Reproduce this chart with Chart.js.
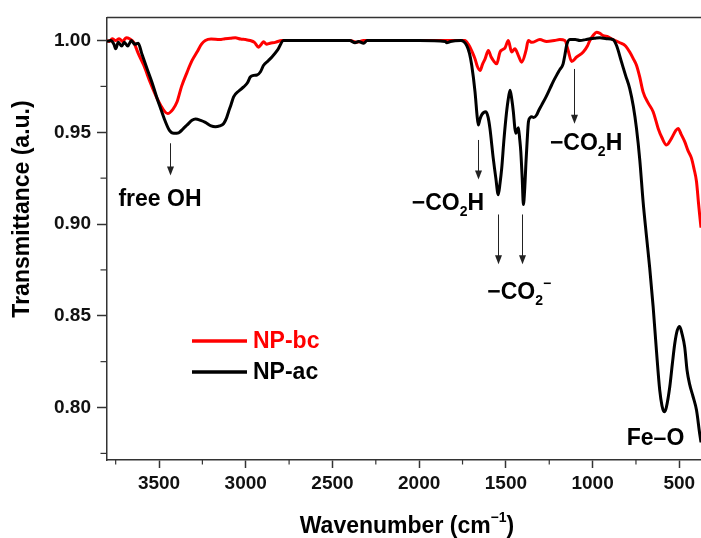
<!DOCTYPE html>
<html>
<head>
<meta charset="utf-8">
<title>FTIR spectra NP-bc / NP-ac</title>
<script src="https://cdn.jsdelivr.net/npm/chart.js@4.4.1/dist/chart.umd.min.js"></script>
<style>
    html, body { margin: 0; padding: 0; background: #ffffff; }
    #wrap { width: 701px; height: 538px; }
</style>
</head>
<body>
<div id="wrap"><canvas id="ftirChart" width="701" height="538"></canvas></div>
<script>
// NP-bc (red)
const bcWavenumber = [
    3800, 3785, 3770, 3750, 3730, 3710, 3690, 3670, 3646, 3620,
    3588, 3550, 3511, 3480, 3450, 3420, 3396, 3370, 3338, 3310,
    3281, 3255, 3233, 3200, 3150, 3120, 3089, 3060, 3030, 3000,
    2974, 2950, 2926, 2910, 2897, 2880, 2860, 2830, 2791, 2400,
    2360, 2320, 1760, 1736, 1717, 1695, 1678, 1665, 1649, 1635,
    1620, 1601, 1585, 1573, 1553, 1534, 1520, 1505, 1486, 1467,
    1448, 1428, 1409, 1384, 1371, 1350, 1304, 1265, 1220, 1189,
    1160, 1141, 1121, 1092, 1054, 1030, 1016, 995, 977, 960,
    939, 910, 882, 843, 810, 786, 765, 747, 728, 709,
    680, 651, 622, 600, 574, 545, 520, 507, 490, 469,
    450, 430, 415, 401, 390, 383, 375,
];
const bcTransmittance = [
    1.000, 0.9995, 1.001, 1.000, 1.001, 0.9995, 1.0015, 1.001, 0.999, 0.993,
    0.9865, 0.977, 0.9684, 0.963, 0.9602, 0.9625, 0.9666, 0.975, 0.9828, 0.989,
    0.9937, 0.998, 1.000, 1.0008, 1.0005, 1.001, 1.0012, 1.0015, 1.0008, 1.0005,
    1.000, 0.999, 0.9964, 0.998, 0.9993, 0.998, 0.9985, 0.999, 1.000, 1.000,
    0.999, 1.000, 1.000, 1.000, 0.998, 0.994, 0.990, 0.986, 0.9837, 0.987,
    0.990, 0.9946, 0.991, 0.9892, 0.9873, 0.9937, 0.995, 0.996, 1.000, 0.9937,
    0.9955, 0.9918, 0.9882, 0.9946, 1.000, 0.999, 1.0005, 0.9995, 1.000, 1.0005,
    1.000, 0.9946, 0.9886, 0.991, 0.9937, 0.997, 1.000, 1.003, 1.0045, 1.004,
    1.0027, 1.002, 1.0005, 0.9988, 0.997, 0.9937, 0.990, 0.9865, 0.980, 0.972,
    0.966, 0.9612, 0.9521, 0.947, 0.9431, 0.9467, 0.951, 0.9521, 0.949, 0.9449,
    0.940, 0.9359, 0.930, 0.9232, 0.912, 0.9052, 0.898,
];

// NP-ac (black)
const acWavenumber = [
    3800, 3780, 3760, 3750, 3735, 3715, 3700, 3680, 3660, 3640,
    3620, 3600, 3569, 3540, 3511, 3487, 3463, 3440, 3415, 3387,
    3360, 3338, 3310, 3290, 3260, 3233, 3200, 3175, 3150, 3127,
    3110, 3099, 3085, 3070, 3040, 3012, 2990, 2974, 2955, 2935,
    2915, 2897, 2870, 2849, 2815, 2782, 2600, 2400, 2370, 2350,
    2320, 2300, 2000, 1850, 1841, 1820, 1760, 1726, 1710, 1697,
    1678, 1665, 1659, 1650, 1640, 1628, 1615, 1602, 1592, 1573,
    1558, 1544, 1534, 1524, 1512, 1500, 1488, 1476, 1466, 1457,
    1448, 1442, 1435, 1428, 1420, 1414, 1406, 1399, 1391, 1384,
    1377, 1370, 1360, 1351, 1340, 1323, 1310, 1294, 1270, 1246,
    1225, 1208, 1190, 1170, 1160, 1150, 1131, 1100, 1073, 1040,
    1016, 990, 958, 920, 882, 862, 833, 810, 786, 765,
    747, 728, 709, 690, 671, 651, 632, 613, 600, 590,
    584, 575, 555, 540, 526, 512, 498, 484, 469, 455,
    440, 421, 401, 383, 375,
];
const acTransmittance = [
    0.9995, 1.000, 0.998, 0.9955, 0.999, 0.997, 0.999, 0.997, 1.000, 0.998,
    0.9985, 0.993, 0.9846, 0.977, 0.9684, 0.962, 0.9557, 0.951, 0.9494, 0.9497,
    0.952, 0.954, 0.9565, 0.9572, 0.9565, 0.9554, 0.9535, 0.953, 0.9535, 0.9548,
    0.958, 0.9612, 0.965, 0.9693, 0.9725, 0.9747, 0.977, 0.9801, 0.981, 0.9812,
    0.983, 0.9865, 0.989, 0.991, 0.995, 1.000, 1.000, 1.000, 0.9988, 0.9995,
    0.9985, 1.000, 1.000, 0.9995, 0.9988, 0.9995, 1.000, 0.9973, 0.993, 0.9865,
    0.972, 0.958, 0.954, 0.957, 0.9594, 0.9608, 0.9612, 0.958, 0.9521, 0.9359,
    0.925, 0.916, 0.922, 0.9304, 0.945, 0.9575, 0.967, 0.9729, 0.968, 0.9612,
    0.952, 0.9494, 0.951, 0.9525, 0.946, 0.9395, 0.925, 0.9106, 0.92, 0.934,
    0.946, 0.9557, 0.958, 0.9585, 0.958, 0.9594, 0.962, 0.9648, 0.969, 0.9738,
    0.978, 0.981, 0.984, 0.9873, 0.992, 0.9973, 1.0005, 1.0005, 1.000, 1.0005,
    1.001, 1.0012, 1.0015, 1.001, 1.0005, 0.9973, 0.9882, 0.981, 0.9738, 0.964,
    0.9521, 0.935, 0.9124, 0.894, 0.8763, 0.855, 0.8311, 0.8095, 0.801, 0.798,
    0.7977, 0.800, 0.8113, 0.824, 0.835, 0.842, 0.8442, 0.840, 0.8329, 0.820,
    0.8125, 0.806, 0.7986, 0.786, 0.781,
];

const seriesLabels = ["NP-bc", "NP-ac"];
const seriesColors = ["#ff0000", "#000000"];

const xTickValues = [3500, 3000, 2500, 2000, 1500, 1000, 500];
const xMinorTicks = [3750, 3250, 2750, 2250, 1750, 1250, 750];
const yTickValues = [0.80, 0.85, 0.90, 0.95, 1.00];
const yMinorTicks = [0.775, 0.825, 0.875, 0.925, 0.975];

// arrows: [wavenumber, start T, end T]
const arrowMarks = [
    [3434, 0.944, 0.9265],
    [1662, 0.9458, 0.9242],
    [1544, 0.9052, 0.8781],
    [1406, 0.9052, 0.8781],
    [1106, 0.9845, 0.9547],
];
// band labels: text pieces, left edge (wavenumber), baseline (T)
const bandLabels = [
    { parts: [["free OH"]], wn: 3734, t: 0.9097 },
    { parts: [["\u2212CO"], ["2", "sub"], ["H"]], wn: 2043, t: 0.9074 },
    { parts: [["\u2212CO"], ["2", "sub"], ["\u2212", "sup"]], wn: 1607, t: 0.8592 },
    { parts: [["\u2212CO"], ["2", "sub"], ["H"]], wn: 1246, t: 0.9404 },
    { parts: [["Fe\u2013O"]], wn: 803, t: 0.7797 },
];

const fontFamily = '"Liberation Sans", Arial, Helvetica, sans-serif';
const axisColor = "#333333";

function zip(xs, ys) {
    return xs.map(function (v, i) {
        return { x: v, y: ys[i] };
    });
}

// draws text with sub/superscript pieces, returns width
function drawParts(ctx, parts, x, y, size, measureOnly) {
    let cx = x;
    parts.forEach(function (p) {
        const kind = p[1];
        const s = kind ? Math.round(size * 0.62) : size;
        ctx.font = "bold " + s + "px " + fontFamily;
        let dy = 0;
        if (kind === "sub") dy = size * 0.25;
        if (kind === "sup") dy = -size * 0.48;
        if (!measureOnly) ctx.fillText(p[0], cx, y + dy);
        cx += ctx.measureText(p[0]).width;
    });
    return cx - x;
}

const overlayPlugin = {
    id: "overlay",
    afterDraw: function (chart) {
        const ctx = chart.ctx;
        const area = chart.chartArea;
        const xs = chart.scales.x;
        const ys = chart.scales.y;
        ctx.save();

        // top frame line
        ctx.strokeStyle = axisColor;
        ctx.lineWidth = 1.5;
        ctx.beginPath();
        ctx.moveTo(area.left, area.top);
        ctx.lineTo(area.right, area.top);
        ctx.stroke();

        // minor ticks
        ctx.lineWidth = 1.2;
        xMinorTicks.forEach(function (v) {
            const px = xs.getPixelForValue(v);
            ctx.beginPath();
            ctx.moveTo(px, area.bottom);
            ctx.lineTo(px, area.bottom + 4.5);
            ctx.stroke();
        });
        yMinorTicks.forEach(function (v) {
            const py = ys.getPixelForValue(v);
            ctx.beginPath();
            ctx.moveTo(area.left, py);
            ctx.lineTo(area.left - 6.5, py);
            ctx.stroke();
        });

        // arrows
        ctx.strokeStyle = "#222222";
        ctx.fillStyle = "#222222";
        ctx.lineWidth = 1;
        arrowMarks.forEach(function (a) {
            const px = Math.round(xs.getPixelForValue(a[0])) + 0.5;
            const y0 = ys.getPixelForValue(a[1]);
            const y1 = ys.getPixelForValue(a[2]);
            ctx.beginPath();
            ctx.moveTo(px, y0);
            ctx.lineTo(px, y1 - 6);
            ctx.stroke();
            ctx.beginPath();
            ctx.moveTo(px - 3.5, y1 - 9);
            ctx.lineTo(px + 3.5, y1 - 9);
            ctx.lineTo(px, y1);
            ctx.closePath();
            ctx.fill();
        });

        // band labels
        ctx.fillStyle = "#000000";
        ctx.textAlign = "left";
        ctx.textBaseline = "alphabetic";
        bandLabels.forEach(function (b) {
            drawParts(ctx, b.parts, xs.getPixelForValue(b.wn), ys.getPixelForValue(b.t), 23, false);
        });

        // legend
        chart.data.datasets.forEach(function (ds, i) {
            const ly = 341 + i * 31;
            ctx.strokeStyle = ds.borderColor;
            ctx.lineWidth = 3.5;
            ctx.beginPath();
            ctx.moveTo(192, ly);
            ctx.lineTo(247, ly);
            ctx.stroke();
            ctx.fillStyle = ds.borderColor;
            ctx.font = "bold 23px " + fontFamily;
            ctx.textBaseline = "middle";
            ctx.fillText(ds.label, 253, ly + 1);
        });

        // axis titles
        ctx.fillStyle = "#000000";
        ctx.textBaseline = "alphabetic";
        const xTitle = [["Wavenumber (cm"], ["\u22121", "sup"], [")"]];
        const w = drawParts(ctx, xTitle, 0, 0, 23, true);
        drawParts(ctx, xTitle, 407 - w / 2, 533, 23, false);

        ctx.translate(23, 209);
        ctx.rotate(-Math.PI / 2);
        ctx.font = "bold 23px " + fontFamily;
        ctx.textAlign = "center";
        ctx.textBaseline = "middle";
        ctx.fillText("Transmittance (a.u.)", 0, 0);

        ctx.restore();
    },
};

const ftirCtx = document.getElementById("ftirChart").getContext("2d");
const ftirChart = new Chart(ftirCtx, {
    type: "line",
    data: {
        datasets: [
            {
                label: seriesLabels[0],
                data: zip(bcWavenumber, bcTransmittance),
                borderColor: seriesColors[0],
                borderWidth: 3,
                pointRadius: 0,
                cubicInterpolationMode: "monotone",
                order: 2,
            },
            {
                label: seriesLabels[1],
                data: zip(acWavenumber, acTransmittance),
                borderColor: seriesColors[1],
                borderWidth: 3,
                pointRadius: 0,
                cubicInterpolationMode: "monotone",
                order: 1,
            },
        ],
    },
    options: {
        responsive: false,
        animation: false,
        layout: {
            padding: { top: 15, right: 0, left: 0, bottom: 0 },
        },
        plugins: {
            legend: { display: false },
            tooltip: { enabled: false },
        },
        scales: {
            x: {
                type: "linear",
                reverse: true,
                min: 375,
                max: 3800,
                afterBuildTicks: function (scale) {
                    scale.ticks = xTickValues.map(function (v) {
                        return { value: v };
                    });
                },
                afterFit: function (scale) {
                    scale.height = 78;
                },
                grid: {
                    drawOnChartArea: false,
                    tickLength: 8,
                    tickColor: axisColor,
                    tickWidth: 1.5,
                },
                border: { color: axisColor, width: 1.5 },
                ticks: {
                    autoSkip: false,
                    maxRotation: 0,
                    padding: 4,
                    color: "#111111",
                    font: { family: fontFamily, size: 19, weight: "bold" },
                    callback: function (value) {
                        return String(value);
                    },
                },
            },
            y: {
                min: 0.7714,
                max: 1.0126,
                afterBuildTicks: function (scale) {
                    scale.ticks = yTickValues.map(function (v) {
                        return { value: v };
                    });
                },
                afterFit: function (scale) {
                    scale.width = 107;
                },
                grid: {
                    drawOnChartArea: false,
                    tickLength: 10,
                    tickColor: axisColor,
                    tickWidth: 1.5,
                },
                border: { color: axisColor, width: 1.5 },
                ticks: {
                    padding: 6,
                    color: "#111111",
                    font: { family: fontFamily, size: 19, weight: "bold" },
                    callback: function (value) {
                        return value.toFixed(2);
                    },
                },
            },
        },
    },
    plugins: [overlayPlugin],
});
</script>
</body>
</html>
